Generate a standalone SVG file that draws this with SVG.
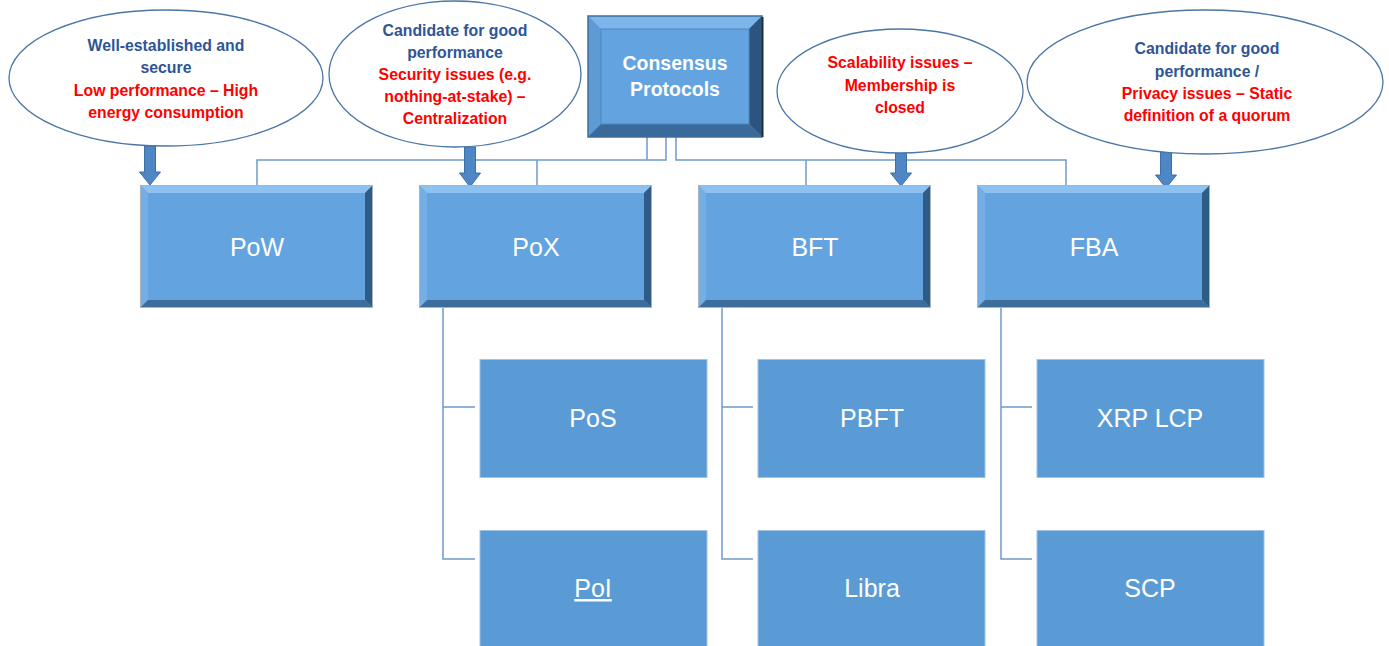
<svg xmlns="http://www.w3.org/2000/svg" xmlns:xlink="http://www.w3.org/1999/xlink" width="1389" height="646" viewBox="0 0 1389 646">
<style>
.ell{fill:#fff;stroke:#4A76A6;stroke-width:1.3}
.et{font-family:"Liberation Sans",Arial,sans-serif;font-weight:bold;font-size:15.8px;text-anchor:middle}
.b{fill:#2E5597}
.r{fill:#FF0000}
.conn{fill:none;stroke:#6F9AC9;stroke-width:1.5}
.arr{fill:#4E86C6;stroke:#3C6FA8;stroke-width:1}
.t1{font-family:"Liberation Sans",Arial,sans-serif;font-size:25px;fill:#fff;text-anchor:middle}
.tt{font-family:"Liberation Sans",Arial,sans-serif;font-weight:bold;font-size:19.5px;fill:#fff;text-anchor:middle}
.flat{fill:#5B9BD5;stroke:#9DC3E6;stroke-width:1}
</style>
<defs>
<g id="bevel1">
<rect x="0" y="0" width="231" height="121" fill="#62A3E0"/>
<polygon points="0,0 231,0 224,7 7,7" fill="#8DC2F0"/>
<polygon points="0,0 7,7 7,114 0,121" fill="#74AEE5"/>
<polygon points="231,0 231,121 224,114 224,7" fill="#2F5C86"/>
<polygon points="0,121 231,121 224,114 7,114" fill="#3D6D9C"/>
<rect x="-0.5" y="-0.5" width="232" height="122" fill="none" stroke="#A9B4BF" stroke-width="1"/>
</g>
</defs>

<g id="connectors">
<polyline class="conn" points="647,137 647,160"/>
<polyline class="conn" points="666,137 666,160 257,160 257,186"/>
<polyline class="conn" points="537,160 537,186"/>
<polyline class="conn" points="676,137 676,160 1066,160 1066,186"/>
<polyline class="conn" points="806,160 806,186"/>
<polyline class="conn" points="443,307 443,559 475,559"/>
<polyline class="conn" points="443,407 475,407"/>
<polyline class="conn" points="722,307 722,559 753,559"/>
<polyline class="conn" points="722,407 753,407"/>
<polyline class="conn" points="1001,307 1001,559 1032,559"/>
<polyline class="conn" points="1001,407 1032,407"/>
<path class="arr" d="M144.5,146 H155.5 V172 H160.5 L150,185 L139.5,172 H144.5 Z"/>
<path class="arr" d="M464.5,147 H475.5 V173 H480.5 L470,187 L459.5,173 H464.5 Z"/>
<path class="arr" d="M895.5,153 H906.5 V173 H911.5 L901,186 L890.5,173 H895.5 Z"/>
<path class="arr" d="M1160.5,152 H1171.5 V175 H1176.5 L1166,188 L1155.5,175 H1160.5 Z"/>
</g>

<g id="note-pow">
<ellipse class="ell" cx="166" cy="78" rx="157" ry="68"/>
<text class="et b" x="166" y="51">Well-established and</text>
<text class="et b" x="166" y="73">secure</text>
<text class="et r" x="166" y="96">Low performance – High</text>
<text class="et r" x="166" y="118">energy consumption</text>
</g>

<g id="note-pox">
<ellipse class="ell" cx="455" cy="74" rx="126" ry="73"/>
<text class="et b" x="455" y="36">Candidate for good</text>
<text class="et b" x="455" y="58">performance</text>
<text class="et r" x="455" y="80">Security issues (e.g.</text>
<text class="et r" x="455" y="102">nothing-at-stake) –</text>
<text class="et r" x="455" y="124">Centralization</text>
</g>

<g id="note-bft">
<ellipse class="ell" cx="900" cy="91" rx="123" ry="62"/>
<text class="et r" x="900" y="68">Scalability issues –</text>
<text class="et r" x="900" y="91">Membership is</text>
<text class="et r" x="900" y="113">closed</text>
</g>

<g id="note-fba">
<ellipse class="ell" cx="1205" cy="82" rx="178" ry="72"/>
<text class="et b" x="1207" y="54">Candidate for good</text>
<text class="et b" x="1207" y="77">performance /</text>
<text class="et r" x="1207" y="99">Privacy issues – Static</text>
<text class="et r" x="1207" y="121">definition of a quorum</text>
</g>

<g id="consensus">
<rect x="588" y="16" width="174" height="121" fill="#62A3E0"/>
<polygon points="588,16 762,16 749,29 601,29" fill="#7DB6EA"/>
<polygon points="588,16 601,29 601,124 588,137" fill="#5E9AD3"/>
<polygon points="762,16 762,137 749,124 749,29" fill="#2B557E"/>
<polygon points="588,137 762,137 749,124 601,124" fill="#3A6A99"/>
<rect x="601" y="29" width="148" height="95" fill="#62A3E0" stroke="#4F88C0" stroke-width="1"/>
<rect x="588" y="16" width="174" height="121" fill="none" stroke="#3F6E9C" stroke-width="1.5"/>
<line x1="762.5" y1="17" x2="762.5" y2="137" stroke="#1E2B38" stroke-width="2"/>
<text class="tt" x="675" y="70">Consensus</text>
<text class="tt" x="675" y="96">Protocols</text>
</g>

<g id="pow">
<use xlink:href="#bevel1" x="141" y="186"/>
<text class="t1" x="257" y="256">PoW</text>
</g>
<g id="pox">
<use xlink:href="#bevel1" x="420" y="186"/>
<text class="t1" x="536" y="256">PoX</text>
</g>
<g id="bft">
<use xlink:href="#bevel1" x="699" y="186"/>
<text class="t1" x="815" y="256">BFT</text>
</g>
<g id="fba">
<use xlink:href="#bevel1" x="978" y="186"/>
<text class="t1" x="1094" y="256">FBA</text>
</g>

<g id="pos">
<rect class="flat" x="480" y="359.5" width="227" height="118"/>
<text class="t1" x="593" y="427">PoS</text>
</g>
<g id="poi">
<rect class="flat" x="480" y="530.5" width="227" height="120"/>
<text class="t1" x="593" y="597" text-decoration="underline">PoI</text>
</g>
<g id="pbft">
<rect class="flat" x="758" y="359.5" width="227" height="118"/>
<text class="t1" x="872" y="427">PBFT</text>
</g>
<g id="libra">
<rect class="flat" x="758" y="530.5" width="227" height="120"/>
<text class="t1" x="872" y="597">Libra</text>
</g>
<g id="xrp">
<rect class="flat" x="1037" y="359.5" width="227" height="118"/>
<text class="t1" x="1150" y="427">XRP LCP</text>
</g>
<g id="scp">
<rect class="flat" x="1037" y="530.5" width="227" height="120"/>
<text class="t1" x="1150" y="597">SCP</text>
</g>
</svg>
